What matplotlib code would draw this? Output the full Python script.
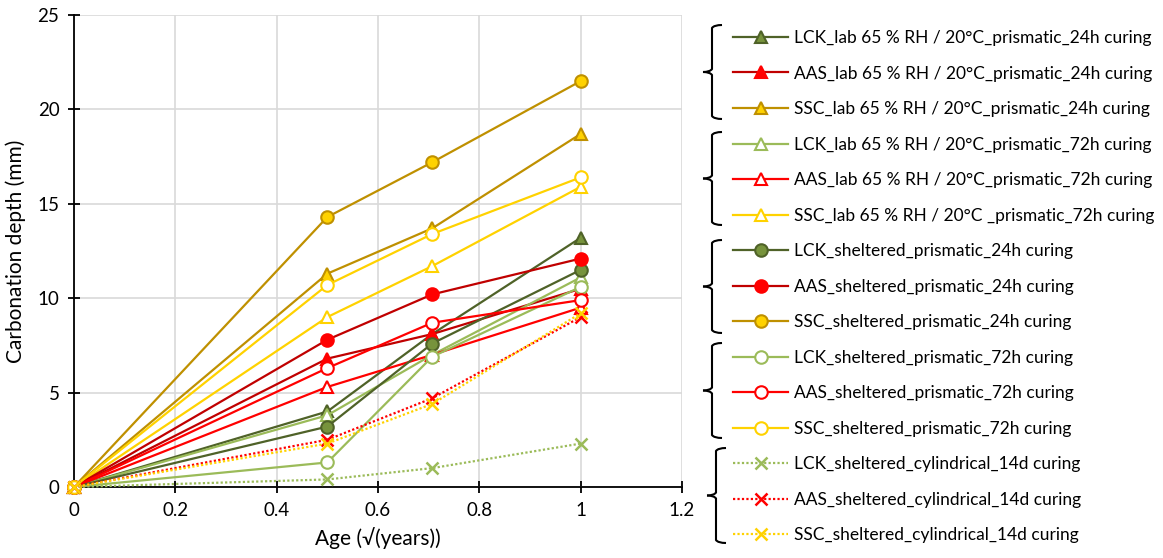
import matplotlib
matplotlib.use("Agg")
import matplotlib.pyplot as plt
from matplotlib.path import Path
from matplotlib.patches import PathPatch

plt.rcParams['font.family'] = ['Lato', 'DejaVu Sans']

# ---------------- data ----------------
age = [0, 0.5, 0.707, 1]

labels = [
    "LCK_lab 65 % RH / 20°C_prismatic_24h curing",
    "AAS_lab 65 % RH / 20°C_prismatic_24h curing",
    "SSC_lab 65 % RH / 20°C_prismatic_24h curing",
    "LCK_lab 65 % RH / 20°C_prismatic_72h curing",
    "AAS_lab 65 % RH / 20°C_prismatic_72h curing",
    "SSC_lab 65 % RH / 20°C _prismatic_72h curing",
    "LCK_sheltered_prismatic_24h curing",
    "AAS_sheltered_prismatic_24h curing",
    "SSC_sheltered_prismatic_24h curing",
    "LCK_sheltered_prismatic_72h curing",
    "AAS_sheltered_prismatic_72h curing",
    "SSC_sheltered_prismatic_72h curing",
    "LCK_sheltered_cylindrical_14d curing",
    "AAS_sheltered_cylindrical_14d curing",
    "SSC_sheltered_cylindrical_14d curing",
]

lck_lab_24 = [0, 4.0, 8.1, 13.2]
aas_lab_24 = [0, 6.8, 8.1, 10.5]
ssc_lab_24 = [0, 11.3, 13.7, 18.7]
lck_lab_72 = [0, 3.8, 7.0, 11.1]
aas_lab_72 = [0, 5.3, 7.0, 9.5]
ssc_lab_72 = [0, 9.0, 11.7, 15.9]
lck_sh_24 = [0, 3.2, 7.6, 11.5]
aas_sh_24 = [0, 7.8, 10.2, 12.1]
ssc_sh_24 = [0, 14.3, 17.2, 21.5]
lck_sh_72 = [0, 1.3, 6.9, 10.6]
aas_sh_72 = [0, 6.3, 8.7, 9.9]
ssc_sh_72 = [0, 10.7, 13.4, 16.4]
lck_cyl_14 = [0, 0.4, 1.0, 2.3]
aas_cyl_14 = [0, 2.5, 4.7, 9.0]
ssc_cyl_14 = [0, 2.3, 4.4, 9.2]

series = [lck_lab_24, aas_lab_24, ssc_lab_24, lck_lab_72, aas_lab_72, ssc_lab_72,
          lck_sh_24, aas_sh_24, ssc_sh_24, lck_sh_72, aas_sh_72, ssc_sh_72,
          lck_cyl_14, aas_cyl_14, ssc_cyl_14]

x_ticks = [0, 0.2, 0.4, 0.6, 0.8, 1, 1.2]
x_ticklabels = ["0", "0.2", "0.4", "0.6", "0.8", "1", "1.2"]
y_ticks = [0, 5, 10, 15, 20, 25]

# ---------------- styles ----------------
OLIVE_D, OLIVE_F = "#4F6228", "#77933C"
GREEN_L = "#9BBB59"
RED_D, RED = "#C00000", "#FF0000"
GOLD_D, GOLD = "#BF9000", "#FFD200"
WHITE = "white"

styles = [
    dict(color=OLIVE_D, marker="^", mfc=OLIVE_F, mec=OLIVE_D, ls="-"),
    dict(color=RED_D, marker="^", mfc=RED, mec=RED, ls="-"),
    dict(color=GOLD_D, marker="^", mfc=GOLD, mec=GOLD_D, ls="-"),
    dict(color=GREEN_L, marker="^", mfc=WHITE, mec=GREEN_L, ls="-"),
    dict(color=RED, marker="^", mfc=WHITE, mec=RED, ls="-"),
    dict(color=GOLD, marker="^", mfc=WHITE, mec=GOLD, ls="-"),
    dict(color=OLIVE_D, marker="o", mfc=OLIVE_F, mec=OLIVE_D, ls="-"),
    dict(color=RED_D, marker="o", mfc=RED, mec=RED, ls="-"),
    dict(color=GOLD_D, marker="o", mfc=GOLD, mec=GOLD_D, ls="-"),
    dict(color=GREEN_L, marker="o", mfc=WHITE, mec=GREEN_L, ls="-"),
    dict(color=RED, marker="o", mfc=WHITE, mec=RED, ls="-"),
    dict(color=GOLD, marker="o", mfc=WHITE, mec=GOLD, ls="-"),
    dict(color=GREEN_L, marker="x", mfc=GREEN_L, mec=GREEN_L, ls=(0, (1, 1))),
    dict(color=RED, marker="x", mfc=RED, mec=RED, ls=(0, (1, 1))),
    dict(color=GOLD, marker="x", mfc=GOLD, mec=GOLD, ls=(0, (1, 1))),
]

W, H = 1163, 558
fig = plt.figure(figsize=(W / 100, H / 100), dpi=100)
ax = fig.add_axes([74 / W, 1 - 487 / H, (682 - 74) / W, (487 - 15) / H])

handles = []
for vals, st, lab in zip(series, styles, labels):
    ms = 9 if st["marker"] != "x" else 8
    mew = 1.5 if st["marker"] != "x" else 1.8
    h, = ax.plot(age, vals, color=st["color"], ls=st["ls"], lw=1.6,
                 marker=st["marker"], markersize=ms, markerfacecolor=st["mfc"],
                 markeredgecolor=st["mec"], markeredgewidth=mew,
                 clip_on=False, label=lab)
    handles.append(h)

ax.set_xlim(0, 1.2)
ax.set_ylim(0, 25)
ax.set_xticks(x_ticks)
ax.set_xticklabels(x_ticklabels)
ax.set_yticks(y_ticks)
ax.grid(True, color="#D9D9D9", lw=1.2)
ax.set_axisbelow(True)
for s in ["top", "right"]:
    ax.spines[s].set_visible(False)
for s in ["left", "bottom"]:
    ax.spines[s].set_color("black")
    ax.spines[s].set_linewidth(1.3)
    ax.spines[s].set_zorder(1.5)
ax.tick_params(direction="inout", length=9, width=1.3, labelsize=13.5, colors="black", pad=6)
ax.set_xlabel("Age (√(years))", fontsize=15, labelpad=6)
ax.set_ylabel("Carbonation depth (mm)", fontsize=15, labelpad=8)

fs = 12.5
leg = fig.legend(handles=handles, labels=labels, loc="upper left",
                 bbox_to_anchor=(733 / W, 1 - 30 / H), frameon=False,
                 fontsize=fs, handlelength=55 / (fs * 100 / 72), handletextpad=0.35,
                 labelspacing=1.125, borderpad=0, borderaxespad=0)

# curly braces grouping the legend
bax = fig.add_axes([0, 0, 1, 1])
bax.set_xlim(0, W)
bax.set_ylim(H, 0)
bax.axis("off")
groups = [(25, 119, 712), (132, 225, 712), (240, 333, 712), (343, 438, 712), (448, 543, 716)]
codes = [Path.MOVETO, Path.CURVE3, Path.CURVE3, Path.LINETO, Path.CURVE3, Path.CURVE3]
for top, bot, xv in groups:
    mid = (top + bot) / 2
    verts = [(xv + 10, top), (xv + 2, top), (xv, top + 3), (xv, mid - 3),
             (xv - 2, mid), (xv - 9, mid)]
    bax.add_patch(PathPatch(Path(verts, codes), fill=False, lw=1.5, ec="black"))
    verts2 = [(xv + 10, bot), (xv + 2, bot), (xv, bot - 3), (xv, mid + 3),
              (xv - 2, mid), (xv - 9, mid)]
    bax.add_patch(PathPatch(Path(verts2, codes), fill=False, lw=1.5, ec="black"))

fig.savefig("out.png", dpi=100)
